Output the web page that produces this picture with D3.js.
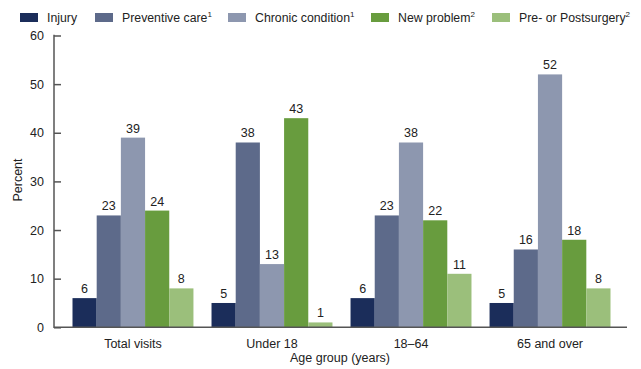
<!DOCTYPE html>
<html>
<head>
<meta charset="utf-8">
<script src="https://cdn.jsdelivr.net/npm/d3@7"></script>
<style>
  html, body { margin: 0; padding: 0; background: #fff; }
  svg { display: block; font-family: "Liberation Sans", Arial, sans-serif; }
</style>
</head>
<body>
<svg id="chart" width="641" height="369"></svg>
<script>
// Age groups along the x axis
const groups = ["Total visits", "Under 18", "18\u201364", "65 and over"];

// Reason for visit (legend entries) with footnote markers
const seriesNames = ["Injury", "Preventive care", "Chronic condition", "New problem", "Pre- or Postsurgery"];
const seriesNotes = ["", "1", "1", "2", "2"];
const seriesColors = ["#1b2d5a", "#5d6a8a", "#8d97af", "#689c3e", "#9bbf7b"];

// Percent of visits, one array per reason, ordered by age group
const injury = [6, 5, 6, 5];
const preventive = [23, 38, 23, 16];
const chronic = [39, 13, 38, 52];
const newProblem = [24, 43, 22, 18];
const surgery = [8, 1, 11, 8];

const yTicks = [0, 10, 20, 30, 40, 50, 60];

const seriesValues = [injury, preventive, chronic, newProblem, surgery];

const svg = d3.select("#chart");
const axisColor = "#555";

const plot = { left: 54, right: 627, top: 35.5, bottom: 327.3 };

const y = d3.scaleLinear().domain([0, 60]).range([plot.bottom, plot.top]);

const x0 = d3.scaleBand()
  .domain(groups)
  .range([72.5, 610.5])
  .paddingInner(0.13)
  .paddingOuter(0);

const x1 = d3.scaleBand()
  .domain(d3.range(seriesNames.length))
  .range([0, x0.bandwidth()])
  .padding(0);

// Bars
const g = svg.append("g");
groups.forEach((grp, gi) => {
  const gg = g.append("g").attr("transform", `translate(${x0(grp)},0)`);
  seriesValues.forEach((vals, si) => {
    const v = vals[gi];
    gg.append("rect")
      .attr("x", x1(si))
      .attr("y", y(v))
      .attr("width", x1.bandwidth())
      .attr("height", y(0) - y(v))
      .attr("fill", seriesColors[si]);
    gg.append("text")
      .attr("x", x1(si) + x1.bandwidth() / 2)
      .attr("y", y(v) - 5)
      .attr("text-anchor", "middle")
      .attr("font-size", 12.5)
      .attr("fill", "#222")
      .text(v);
  });
});

// Y axis
const yAxis = d3.axisRight(y).tickValues(yTicks).tickSize(7).tickPadding(0).tickFormat(d3.format("d"));
const yg = svg.append("g").attr("transform", `translate(${plot.left},0)`).call(yAxis);
yg.select(".domain").remove();
yg.selectAll(".tick line").attr("stroke", axisColor).attr("stroke-width", 1.5);
yg.selectAll(".tick text")
  .attr("x", -10)
  .attr("text-anchor", "end")
  .attr("font-size", 12.5)
  .attr("fill", "#222");
svg.append("line")
  .attr("x1", plot.left).attr("x2", plot.left)
  .attr("y1", y(60) - 0.75).attr("y2", plot.bottom + 0.75)
  .attr("stroke", axisColor).attr("stroke-width", 1.5);

// X axis
const xAxis = d3.axisBottom(x0).tickSize(0).tickPadding(12);
const xg = svg.append("g").attr("transform", `translate(0,${plot.bottom})`).call(xAxis);
xg.select(".domain").remove();
xg.selectAll(".tick text").attr("font-size", 12.5).attr("fill", "#222").attr("font-family", "Liberation Sans, Arial, sans-serif");
svg.append("line")
  .attr("x1", plot.left).attr("x2", plot.right)
  .attr("y1", plot.bottom).attr("y2", plot.bottom)
  .attr("stroke", axisColor).attr("stroke-width", 1.5);

// Axis titles
svg.append("text")
  .attr("transform", "translate(22,180) rotate(-90)")
  .attr("text-anchor", "middle")
  .attr("font-size", 12.5)
  .attr("fill", "#222")
  .text("Percent");
svg.append("text")
  .attr("x", 340)
  .attr("y", 362)
  .attr("text-anchor", "middle")
  .attr("font-size", 12.5)
  .attr("fill", "#222")
  .text("Age group (years)");

// Legend
const legendX = [20, 95, 228, 371, 492];
const legend = svg.append("g");
seriesNames.forEach((name, i) => {
  legend.append("rect")
    .attr("x", legendX[i]).attr("y", 13)
    .attr("width", 18).attr("height", 9)
    .attr("fill", seriesColors[i]);
  const t = legend.append("text")
    .attr("x", legendX[i] + 27).attr("y", 22)
    .attr("font-size", 12.3)
    .attr("fill", "#222");
  t.append("tspan").text(name);
  if (seriesNotes[i]) {
    t.append("tspan").attr("font-size", 8).attr("dy", -5).text(seriesNotes[i]);
  }
});
</script>
</body>
</html>
